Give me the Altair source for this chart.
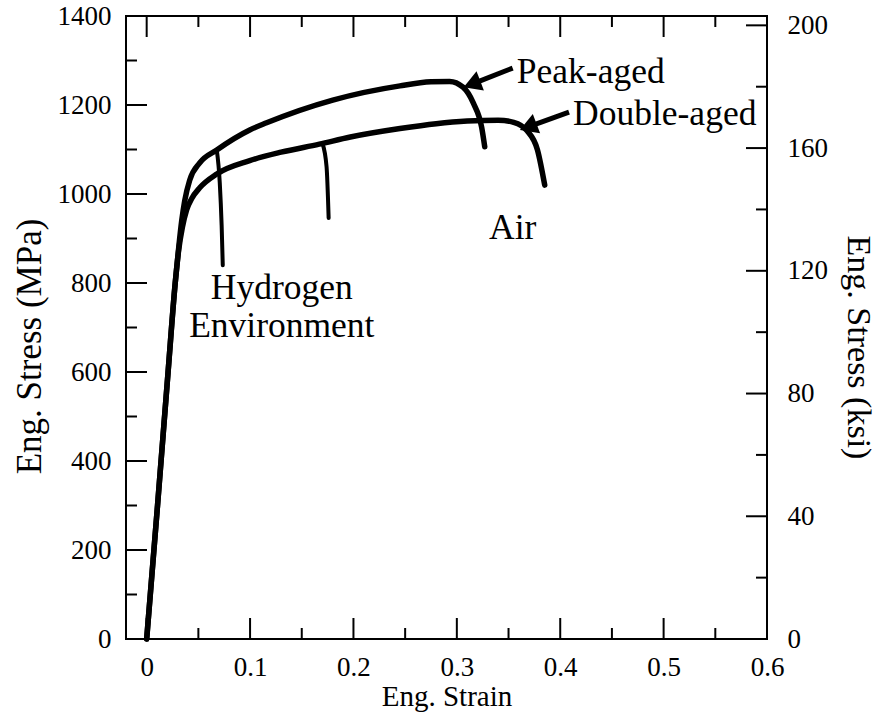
import altair as alt
import pandas as pd

FONT = "Liberation Serif"
W, H = 641, 623
MPA_PER_KSI = 6.895

# Engineering stress-strain curves (strain, MPa)
peak_air_strain = [0, 0.0105, 0.0207, 0.0276, 0.031, 0.0339, 0.0368, 0.0416, 0.0513,
                   0.0678, 0.0997, 0.116, 0.18, 0.245, 0.275, 0.293, 0.306, 0.316, 0.324, 0.327]
peak_air_stress = [0, 300, 600, 800, 880, 940, 985, 1031, 1070,
                   1099, 1144, 1160, 1211, 1243, 1252, 1253, 1240, 1204, 1150, 1106]

double_air_strain = [0, 0.0105, 0.0207, 0.0276, 0.031, 0.0345, 0.0387, 0.0436, 0.0513,
                     0.0678, 0.0997, 0.13, 0.167, 0.197, 0.245, 0.28, 0.31, 0.34, 0.355,
                     0.368, 0.378, 0.385]
double_air_stress = [0, 300, 600, 800, 875, 925, 965, 990, 1014,
                     1045, 1075, 1094, 1112, 1128, 1147, 1158, 1164, 1166, 1161,
                     1142, 1099, 1020]

# Hydrogen-environment branches leave the air curves and drop at fracture
peak_h2_strain = [0.0678, 0.0707, 0.0725, 0.0736]
peak_h2_stress = [1099, 1025, 930, 840]

double_h2_strain = [0.170, 0.174, 0.176]
double_h2_stress = [1114, 1061, 946]

# Text annotations (strain, MPa)
note_text = ["Peak-aged", "Double-aged", "Air", "Hydrogen", "Environment"]
note_x = [0.358, 0.4124, 0.354, 0.1307, 0.1307]
note_y = [1274, 1180, 924, 789, 703]
note_align = ["left", "left", "center", "center", "center"]

# Arrows pointing from labels to the curves
arrow_tail_x = [0.354, 0.4085]
arrow_tail_y = [1283, 1184]
arrow_tip_x = [0.3146, 0.369]
arrow_tip_y = [1247, 1151]

# Tick positions
x_major = [0, 0.1, 0.2, 0.3, 0.4, 0.5]
x_minor = [0.05, 0.15, 0.25, 0.35, 0.45, 0.55]
x_labels = [0, 0.1, 0.2, 0.3, 0.4, 0.5, 0.6]
mpa_major = [200, 400, 600, 800, 1000, 1200]
mpa_minor = [100, 300, 500, 700, 900, 1100, 1300]
mpa_labels = [0, 200, 400, 600, 800, 1000, 1200, 1400]
ksi_major = [40, 80, 120, 160, 200]
ksi_minor = [20, 60, 100, 140, 180]
ksi_labels = [0, 40, 80, 120, 160, 200]

MAJOR, MINOR = 21, 11

xscale = alt.Scale(domain=[-0.02, 0.6], nice=False, zero=False)
mpa_scale = alt.Scale(domain=[0, 1400], nice=False, zero=False)
ksi_scale = alt.Scale(domain=[0, 1400 / MPA_PER_KSI], nice=False, zero=False)

# Axes carry labels and titles only; tick marks are drawn inward as rules
x_axis = alt.Axis(values=x_labels, format=".1~f", title="Eng. Strain",
                  ticks=False, domain=False, grid=False, labelFlush=False,
                  labelPadding=15, titleX=W / 2, titleY=66, titleFontSize=29,
                  titleBaseline="alphabetic", titleAlign="center")
mpa_axis = alt.Axis(values=mpa_labels, format="d", title="Eng. Stress (MPa)",
                    ticks=False, domain=False, grid=False, labelFlush=False,
                    labelPadding=15, titleX=-86, titleY=330, titleFontSize=35,
                    titleBaseline="alphabetic", titleAlign="center")
ksi_axis = alt.Axis(orient="right", values=ksi_labels, format="d",
                    title="Eng. Stress (ksi)", ticks=False, domain=False,
                    grid=False, labelFlush=False, labelPadding=20,
                    titleX=80, titleY=331, titleFontSize=34,
                    titleAngle=90, titleBaseline="alphabetic", titleAlign="center")


def X(field):
    return alt.X(field, type="quantitative", scale=xscale, axis=x_axis)


def Y(field):
    return alt.Y(field, type="quantitative", scale=mpa_scale, axis=mpa_axis)


def curve(strain, stress, width):
    df = pd.DataFrame({"strain": strain, "stress": stress})
    return alt.Chart(df).mark_line(
        color="black", strokeWidth=width, strokeCap="round", strokeJoin="round",
        interpolate="monotone"
    ).encode(
        x=X("strain"),
        y=Y("stress"),
        order=alt.Order("strain:Q"),
    )


curves = [
    curve(peak_air_strain, peak_air_stress, 5.5),
    curve(double_air_strain, double_air_stress, 5.5),
    curve(peak_h2_strain, peak_h2_stress, 4),
    curve(double_h2_strain, double_h2_stress, 4),
]


def x_ticks(values, length, top):
    df = pd.DataFrame({"strain": values})
    y0, y1 = (0, length) if top else (H, H - length)
    return alt.Chart(df).mark_rule(color="black", strokeWidth=2).encode(
        x=X("strain"),
        y=alt.value(y0), y2=alt.value(y1),
    )


def mpa_ticks(values, length):
    df = pd.DataFrame({"stress": values})
    return alt.Chart(df).mark_rule(color="black", strokeWidth=2).encode(
        y=Y("stress"),
        x=alt.value(0), x2=alt.value(length),
    )


def ksi_ticks(values, length):
    df = pd.DataFrame({"ksi": values})
    return alt.Chart(df).mark_rule(color="black", strokeWidth=2).encode(
        y=alt.Y("ksi:Q", scale=ksi_scale, axis=ksi_axis),
        x=alt.value(W), x2=alt.value(W - length),
    )


ticks = [
    x_ticks(x_major, MAJOR, False), x_ticks(x_minor, MINOR, False),
    x_ticks(x_major, MAJOR, True), x_ticks(x_minor, MINOR, True),
    mpa_ticks(mpa_major, MAJOR), mpa_ticks(mpa_minor, MINOR),
]

notes_df = pd.DataFrame({"t": note_text, "strain": note_x, "stress": note_y, "a": note_align})
notes = []
for align in ["left", "center"]:
    notes.append(
        alt.Chart(notes_df[notes_df["a"] == align]).mark_text(
            font=FONT, fontSize=35.5, color="black", align=align, baseline="middle"
        ).encode(
            x=X("strain"),
            y=Y("stress"),
            text="t:N",
        )
    )

arrows_df = pd.DataFrame({"strain": arrow_tail_x, "stress": arrow_tail_y,
                          "strain2": arrow_tip_x, "stress2": arrow_tip_y})
shafts = alt.Chart(arrows_df).mark_rule(color="black", strokeWidth=5).encode(
    x=X("strain"),
    y=Y("stress"),
    x2="strain2:Q", y2="stress2:Q",
)
heads = alt.Chart(arrows_df).mark_point(
    shape="triangle-up", filled=True, color="black", opacity=1, size=420, angle=249
).encode(
    x=X("strain2"),
    y=Y("stress2"),
)

mpa_layer = alt.layer(*curves, *ticks, *notes, shafts, heads)
ksi_layer = alt.layer(ksi_ticks(ksi_major, MAJOR), ksi_ticks(ksi_minor, MINOR))

chart = alt.layer(mpa_layer, ksi_layer).resolve_scale(y="independent").properties(
    width=W, height=H,
    autosize=alt.AutoSizeParams(type="none"),
    padding={"left": 126, "top": 16, "right": 115, "bottom": 76},
    background="white",
).configure_view(
    stroke="black", strokeWidth=2
).configure_axis(
    labelFont=FONT, labelFontSize=27, labelColor="black",
    titleFont=FONT, titleColor="black", titleFontWeight="normal",
)

chart.save("out.html", embed_options={"renderer": "svg", "actions": False})
